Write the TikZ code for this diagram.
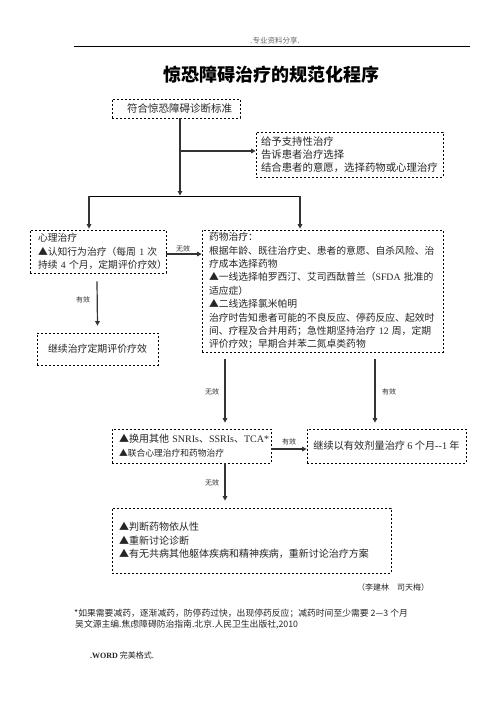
\documentclass[tikz,border=0pt]{standalone}
\usepackage{fontspec}
\usetikzlibrary{arrows.meta,calc}
\setmainfont{Liberation Serif}
\newfontfamily\cjk{Noto Sans CJK SC}
\newfontfamily\latf{Liberation Serif}
\newcommand\lat[1]{{\latf #1}}
\newcommand\fs[2]{\fontsize{#1}{#2}\selectfont}
\begin{document}
\begin{tikzpicture}[x=1pt,y=-1pt,
  box/.style={draw=black, line width=0.7pt, dash pattern=on 2.4pt off 1.6pt,
    inner ysep=0pt, align=left, font=\cjk, text=black!85},
  conn/.style={draw=black!80, line width=1.2pt, -{Triangle[length=4.5pt,width=4.5pt]}},
  bar/.style={draw=black, line width=0.8pt},
  lab/.style={font=\cjk\fs{7}{8}, text=black!80, inner sep=0pt},
  free/.style={inner sep=0pt, text=black!85}]
\useasboundingbox (0,0) rectangle (496,702);
\fill[white] (0,0) rectangle (496,702);

% header
\node[free, font=\cjk\fs{7.5}{8}, text=black!60] (hdr) at (275,41) {.专业资料分享.};
\draw[line width=0.8pt] (74,46) -- (470,46);
\node[free, font=\cjk\bfseries\fs{18}{20}, text=black] (title) at (271,75) {惊恐障碍治疗的规范化程序};

% boxes
\node[box, minimum width=128pt, minimum height=19pt, inner xsep=15pt, text width=98pt,
  font=\cjk\fs{10.5}{13}] (b1) at (176,108.5) {符合惊恐障碍诊断标准};
\node[box, minimum width=187pt, minimum height=45pt, inner xsep=5pt, text width=177pt,
  font=\cjk\fs{10.4}{13}] (b2) at (349.5,154.5)
  {给予支持性治疗\\告诉患者治疗选择\\结合患者的意愿，选择药物或心理治疗};
\node[box, minimum width=136pt, minimum height=43pt, inner xsep=8pt, text width=120pt,
  font=\cjk\fs{9.8}{13.5}] (b3) at (98,251.5)
  {心理治疗\\▲认知行为治疗（每周~\lat{1}~次\\持续~\lat{4}~个月，定期评价疗效）};
\node[box, minimum width=241pt, minimum height=122pt, inner xsep=7pt, text width=227pt,
  font=\cjk\fs{9.8}{13.4}] (b4) at (322.5,291)
  {药物治疗：\\根据年龄、既往治疗史、患者的意愿、自杀风险、治\\疗成本选择药物\\
   ▲一线选择帕罗西汀、艾司西酞普兰（\lat{SFDA}~批准的\\适应症）\\▲二线选择氯米帕明\\
   治疗时告知患者可能的不良反应、停药反应、起效时\\间、疗程及合并用药；急性期坚持治疗~\lat{12}~周，定期\\
   评价疗效；早期合并苯二氮卓类药物};
\node[box, minimum width=121pt, minimum height=32pt, align=center,
  font=\cjk\fs{9.9}{12}] (b5) at (97.5,349) {继续治疗定期评价疗效};
\node[box, minimum width=159pt, minimum height=34pt, inner xsep=7pt, text width=145pt,
  font=\cjk\fs{10}{14}] (b6) at (191.5,446)
  {▲换用其他~\lat{SNRIs}、\lat{SSRIs}、\lat{TCA*}\\{\fs{8.75}{14}▲联合心理治疗和药物治疗}};
\node[box, minimum width=159pt, minimum height=34pt, align=center,
  font=\cjk\fs{10.2}{12}] (b7) at (386.5,446) {继续以有效剂量治疗~\lat{6}~个月\lat{-{}-1}~年};
\node[box, minimum width=279pt, minimum height=65pt, inner xsep=7pt, text width=265pt,
  font=\cjk\fs{10}{13.5}] (b8) at (251.5,540.5)
  {▲判断药物依从性\\▲重新讨论诊断\\▲有无共病其他躯体疾病和精神疾病，重新讨论治疗方案};

% junctions
\coordinate (jA) at (180,151);
\coordinate (jB) at (180,196);
\coordinate (jL) at (89,196);
\coordinate (jR) at (300,196);
\coordinate (xM) at (225,0);
\coordinate (xR) at (375,0);

% connectors
\draw[conn] (b1.south -| jA) -- ($(jB)+(0,-0.5)$);
\draw[conn] (jA) -- (jA -| b2.west);
\draw[bar] (jL) -- (jR);
\draw[conn] (jL) -- ($(jL |- b3.north)+(0,-1)$);
\draw[conn] (jR) -- ($(jR |- b4.north)+(0,-1)$);
\draw[conn] ($(b3.east)+(0,2.5)$) -- ($(b3.east -| b4.west)+(0,2.5)$);
\draw[conn] ($(b3.south)+(-1,8)$) -- ($(b5.north)+(0,-7)$);
\draw[conn] ($(b4.south -| xM)+(0,7)$) -- ($(b6.north -| xM)+(0,-6)$);
\draw[conn] ($(b4.south -| xR)+(0,7)$) -- ($(b7.north -| xR)+(0,-6)$);
\draw[conn] ($(b6.east)+(0,3)$) -- ($(b6.east -| b7.west)+(0,3)$);
\draw[conn] (b6.south -| xM) -- ($(b8.north -| xM)+(0,-7)$);

% labels
\node[lab] (l1) at (183,249) {无效};
\node[lab] (l2) at (83,300) {有效};
\node[lab] (l3) at (212,392) {无效};
\node[lab] (l4) at (389,392) {有效};
\node[lab] (l5) at (289,442) {有效};
\node[lab] (l6) at (212,483) {无效};

% free texts
\node[free, anchor=west, font=\cjk\fs{8}{9}] (auth) at (357,587) {（李建林　司天梅）};
\node[free, anchor=west, font=\cjk\fs{8.8}{10}] (f1) at (74,613)
  {*如果需要减药，逐渐减药，防停药过快，出现停药反应；减药时间至少需要~2—3~个月};
\node[free, anchor=west, font=\cjk\fs{8.8}{10}] (f2) at (75,625)
  {吴文源主编.焦虑障碍防治指南.北京.人民卫生出版社,2010};
\node[free, anchor=west, font=\cjk\fs{8}{9}] (f3) at (90,655) {\lat{\textbf{.WORD}}~完美格式.};
\end{tikzpicture}
\end{document}
